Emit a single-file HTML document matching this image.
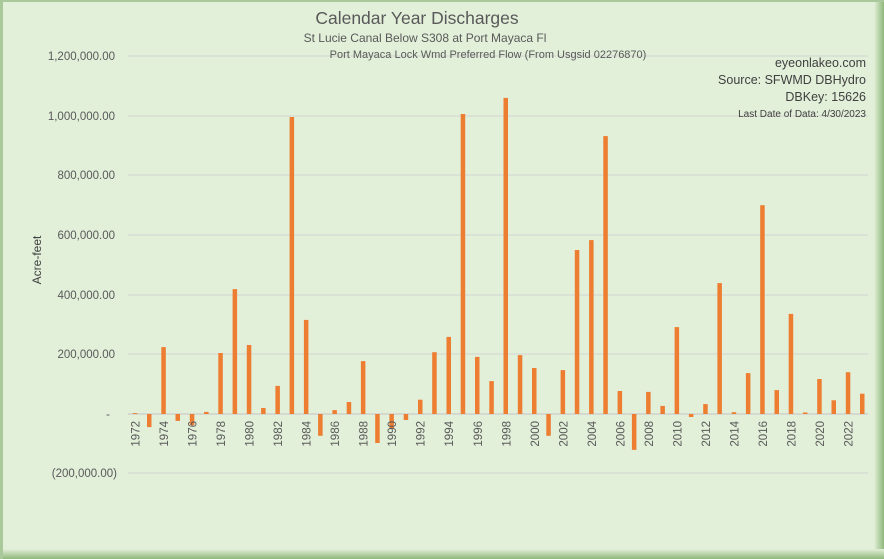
<!DOCTYPE html>
<html><head><meta charset="utf-8"><style>
body{margin:0;width:884px;height:559px;overflow:hidden;background:#fff}
svg{display:block;font-family:"Liberation Sans",sans-serif}
</style></head><body>
<svg width="884" height="559" viewBox="0 0 884 559">
<defs>
<linearGradient id="gr" x1="0" x2="1"><stop offset="0" stop-color="#e2efd9"/><stop offset="1" stop-color="#8fb87a"/></linearGradient>
<linearGradient id="gb" x1="0" y1="0" x2="0" y2="1"><stop offset="0" stop-color="#e2efd9"/><stop offset="1" stop-color="#8fb87a"/></linearGradient>
</defs>
<rect width="884" height="559" fill="#a9c99a"/>
<rect x="2" y="2" width="880" height="555" fill="#e2efd9"/>
<rect x="874" y="0" width="10" height="559" fill="url(#gr)"/>
<rect x="0" y="549" width="884" height="10" fill="url(#gb)"/>
<rect x="0" y="0" width="3" height="559" fill="#a9c99a"/>
<rect x="0" y="0" width="884" height="2" fill="#a9c99a"/>
<g stroke="#d6d9d3" stroke-width="1.2">
<line x1="128" x2="868" y1="56" y2="56"/><line x1="128" x2="868" y1="116" y2="116"/>
<line x1="128" x2="868" y1="175" y2="175"/><line x1="128" x2="868" y1="235" y2="235"/>
<line x1="128" x2="868" y1="295" y2="295"/><line x1="128" x2="868" y1="354" y2="354"/>
<line x1="128" x2="868" y1="473" y2="473"/>
</g>
<line x1="128" x2="868" y1="414" y2="414" stroke="#cfd1cc" stroke-width="1.5"/>
<g fill="#595959" font-size="11.5" text-anchor="end">
<text x="115" y="60">1,200,000.00</text><text x="115" y="120">1,000,000.00</text>
<text x="115" y="179">800,000.00</text><text x="115" y="239">600,000.00</text>
<text x="115" y="299">400,000.00</text><text x="115" y="358">200,000.00</text>
<text x="110" y="418">-</text><text x="117" y="477">(200,000.00)</text>
</g>
<text x="0" y="0" transform="translate(41,260) rotate(-90)" text-anchor="middle" font-size="12" fill="#404040">Acre-feet</text>
<text x="417" y="24" text-anchor="middle" font-size="17.5" fill="#595959">Calendar Year Discharges</text>
<text x="425" y="42" text-anchor="middle" font-size="12" fill="#595959">St Lucie Canal Below S308 at Port Mayaca Fl</text>
<text x="488" y="58" text-anchor="middle" font-size="11" fill="#595959">Port Mayaca Lock Wmd Preferred Flow (From Usgsid 02276870)</text>
<g text-anchor="end" fill="#404040">
<text x="866" y="67" font-size="12.5">eyeonlakeo.com</text>
<text x="866" y="84" font-size="12.5">Source: SFWMD DBHydro</text>
<text x="866" y="101" font-size="12.5">DBKey: 15626</text>
<text x="866" y="117" font-size="10">Last Date of Data: 4/30/2023</text>
</g>
<g fill="#ed7d31">
<rect x="132.75" y="413.1" width="4.5" height="0.9"/>
<rect x="147.0" y="414" width="4.5" height="13.1"/>
<rect x="161.3" y="347.1" width="4.5" height="66.9"/>
<rect x="175.5" y="414" width="4.5" height="6.9"/>
<rect x="189.8" y="414" width="4.5" height="11.1"/>
<rect x="204.1" y="411.9" width="4.5" height="2.1"/>
<rect x="218.3" y="353" width="4.5" height="61"/>
<rect x="232.6" y="289.1" width="4.5" height="124.9"/>
<rect x="246.8" y="345" width="4.5" height="69"/>
<rect x="261.1" y="408" width="4.5" height="6"/>
<rect x="275.4" y="385.9" width="4.5" height="28.1"/>
<rect x="289.6" y="117" width="4.5" height="297"/>
<rect x="303.9" y="319.9" width="4.5" height="94.1"/>
<rect x="318.1" y="414" width="4.5" height="21.8"/>
<rect x="332.4" y="410.1" width="4.5" height="3.9"/>
<rect x="346.7" y="402" width="4.5" height="12"/>
<rect x="360.9" y="361.1" width="4.5" height="52.9"/>
<rect x="375.2" y="414" width="4.5" height="29"/>
<rect x="389.4" y="414" width="4.5" height="14.9"/>
<rect x="403.7" y="414" width="4.5" height="6"/>
<rect x="418.0" y="399.7" width="4.5" height="14.3"/>
<rect x="432.2" y="352.2" width="4.5" height="61.8"/>
<rect x="446.5" y="336.9" width="4.5" height="77.1"/>
<rect x="460.7" y="114" width="4.5" height="300"/>
<rect x="475.0" y="356.9" width="4.5" height="57.1"/>
<rect x="489.3" y="381.1" width="4.5" height="32.9"/>
<rect x="503.5" y="97.9" width="4.5" height="316.1"/>
<rect x="517.8" y="355.1" width="4.5" height="58.9"/>
<rect x="532.0" y="368" width="4.5" height="46"/>
<rect x="546.3" y="414" width="4.5" height="21.8"/>
<rect x="560.6" y="370.1" width="4.5" height="43.9"/>
<rect x="574.8" y="250" width="4.5" height="164"/>
<rect x="589.1" y="240.1" width="4.5" height="173.9"/>
<rect x="603.3" y="136.1" width="4.5" height="277.9"/>
<rect x="617.6" y="391" width="4.5" height="23"/>
<rect x="631.9" y="414" width="4.5" height="35.9"/>
<rect x="646.1" y="391.9" width="4.5" height="22.1"/>
<rect x="660.4" y="405.9" width="4.5" height="8.1"/>
<rect x="674.6" y="327.1" width="4.5" height="86.9"/>
<rect x="688.9" y="414" width="4.5" height="3"/>
<rect x="703.2" y="404.1" width="4.5" height="9.9"/>
<rect x="717.4" y="283.1" width="4.5" height="130.9"/>
<rect x="731.7" y="412.2" width="4.5" height="1.8"/>
<rect x="745.9" y="373.1" width="4.5" height="40.9"/>
<rect x="760.2" y="205.2" width="4.5" height="208.8"/>
<rect x="774.5" y="390.1" width="4.5" height="23.9"/>
<rect x="788.7" y="313.9" width="4.5" height="100.1"/>
<rect x="803.0" y="412.5" width="4.5" height="1.5"/>
<rect x="817.2" y="379" width="4.5" height="35"/>
<rect x="831.5" y="400.3" width="4.5" height="13.7"/>
<rect x="845.8" y="372.2" width="4.5" height="41.8"/>
<rect x="860.0" y="393.7" width="4.5" height="20.3"/>
</g>
<g fill="#595959" font-size="11.5" text-anchor="end">
<text transform="translate(139.5,421) rotate(-90)">1972</text>
<text transform="translate(168,421) rotate(-90)">1974</text>
<text transform="translate(196.6,421) rotate(-90)">1976</text>
<text transform="translate(225.1,421) rotate(-90)">1978</text>
<text transform="translate(253.6,421) rotate(-90)">1980</text>
<text transform="translate(282.1,421) rotate(-90)">1982</text>
<text transform="translate(310.6,421) rotate(-90)">1984</text>
<text transform="translate(339.2,421) rotate(-90)">1986</text>
<text transform="translate(367.7,421) rotate(-90)">1988</text>
<text transform="translate(396.2,421) rotate(-90)">1990</text>
<text transform="translate(424.7,421) rotate(-90)">1992</text>
<text transform="translate(453.2,421) rotate(-90)">1994</text>
<text transform="translate(481.8,421) rotate(-90)">1996</text>
<text transform="translate(510.3,421) rotate(-90)">1998</text>
<text transform="translate(538.8,421) rotate(-90)">2000</text>
<text transform="translate(567.3,421) rotate(-90)">2002</text>
<text transform="translate(595.8,421) rotate(-90)">2004</text>
<text transform="translate(624.4,421) rotate(-90)">2006</text>
<text transform="translate(652.9,421) rotate(-90)">2008</text>
<text transform="translate(681.4,421) rotate(-90)">2010</text>
<text transform="translate(709.9,421) rotate(-90)">2012</text>
<text transform="translate(738.4,421) rotate(-90)">2014</text>
<text transform="translate(767,421) rotate(-90)">2016</text>
<text transform="translate(795.5,421) rotate(-90)">2018</text>
<text transform="translate(824,421) rotate(-90)">2020</text>
<text transform="translate(852.5,421) rotate(-90)">2022</text>
</g>
</svg>
</body></html>
